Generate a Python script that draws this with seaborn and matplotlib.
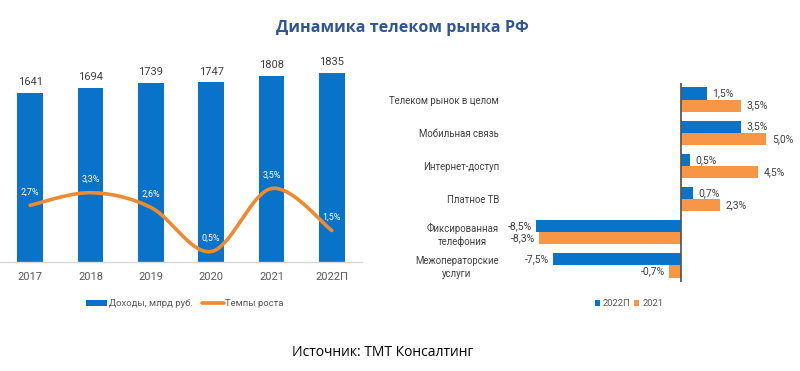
import numpy as np
import pandas as pd
import matplotlib
matplotlib.use("Agg")
import matplotlib.pyplot as plt
from matplotlib import font_manager
from matplotlib.patches import Patch
from matplotlib.lines import Line2D
import seaborn as sns

# ---------------- data ----------------
years = ["2017", "2018", "2019", "2020", "2021", "2022П"]
revenue = [1641, 1694, 1739, 1747, 1808, 1835]
growth = [2.7, 3.3, 2.6, 0.5, 3.5, 1.5]
growth_labels = ["2,7%", "3,3%", "2,6%", "0,5%", "3,5%", "1,5%"]

segments = ["Телеком рынок в целом", "Мобильная связь", "Интернет-доступ",
            "Платное ТВ", "Фиксированная\nтелефония", "Межоператорские\nуслуги"]
seg_2022 = [1.5, 3.5, 0.5, 0.7, -8.5, -7.5]
seg_2021 = [3.5, 5.0, 4.5, 2.3, -8.3, -0.7]
series_names = ["2022П", "2021"]

title = "Динамика телеком рынка РФ"
source = "Источник: ТМТ Консалтинг"

# ---------------- style ----------------
sns.set_theme(style="white")
avail = {f.name for f in font_manager.fontManager.ttflist}
narrow = "Liberation Sans Narrow" if "Liberation Sans Narrow" in avail else "Roboto"
plt.rcParams["font.family"] = [narrow, "DejaVu Sans"]

BLUE = "#0873C9"
ORANGE_LINE = "#F08A2E"
ORANGE_BAR = "#F79646"
GRAY = "#595959"
W, H = 800, 371

fig = plt.figure(figsize=(W / 100, H / 100), dpi=100)

def fx(px):
    return px / W

def fy(py):
    return 1 - py / H

# ---------------- left chart ----------------
ax1 = fig.add_axes([fx(0), fy(262), fx(362), 212 / H])
df_rev = pd.DataFrame({"year": years, "revenue": revenue})
sns.barplot(data=df_rev, x="year", y="revenue", color=BLUE, width=0.42,
            linewidth=0, saturation=1, ax=ax1)
ax1.set_xlim(-0.5, 5.5)
ax1.set_ylim(0, 212 / 0.103)
ax1.set_xlabel("")
ax1.set_ylabel("")
ax1.set_yticks([])
ax1.tick_params(axis="x", length=0, pad=7, labelsize=8, labelcolor=GRAY)
for s in ["top", "right", "left"]:
    ax1.spines[s].set_visible(False)
ax1.spines["bottom"].set_color("#D9D9D9")
ax1.spines["bottom"].set_linewidth(1)
for i, v in enumerate(revenue):
    ax1.annotate(str(v), (i, v), xytext=(0, 4), textcoords="offset points",
                 ha="center", va="bottom", fontsize=8, color="#404040")

ax2 = ax1.twinx()
ax2.set_ylim(0, 212 / 21)
ax2.set_yticks([])
for s in ax2.spines.values():
    s.set_visible(False)

# smooth curve (Excel-style Bezier) through the data points
xs = np.arange(len(growth), dtype=float)
ys = np.array(growth, dtype=float)
sx, sy = 60.4, 21.0
P = np.column_stack([xs * sx, ys * sy])
pts = []
for i in range(len(P) - 1):
    p0 = P[i - 1] if i > 0 else P[i]
    p1, p2 = P[i], P[i + 1]
    p3 = P[i + 2] if i + 2 < len(P) else P[i + 1]
    c1 = p1 + (p2 - p0) / 6
    c2 = p2 - (p3 - p1) / 6
    t = np.linspace(0, 1, 40)[:, None]
    seg = ((1 - t) ** 3) * p1 + 3 * ((1 - t) ** 2) * t * c1 + 3 * (1 - t) * t ** 2 * c2 + t ** 3 * p2
    pts.append(seg if i == 0 else seg[1:])
curve = np.vstack(pts)
df_curve = pd.DataFrame({"x": curve[:, 0] / sx, "y": curve[:, 1] / sy})
sns.lineplot(data=df_curve, x="x", y="y", sort=False, color=ORANGE_LINE,
             linewidth=2.6, ax=ax2)
ax2.set_xlabel("")
ax2.set_ylabel("")
for i, (v, lab) in enumerate(zip(growth, growth_labels)):
    ax2.annotate(lab, (i, v), xytext=(0, 9.5), textcoords="offset points",
                 ha="center", va="center", fontsize=6.5, color="white")

leg1 = fig.legend(
    handles=[Patch(facecolor=BLUE, edgecolor="none", label="Доходы, млрд руб."),
             Line2D([0], [0], color=ORANGE_LINE, lw=2.6, label="Темпы роста")],
    loc="center left", bbox_to_anchor=(fx(77), fy(304)), ncol=2, frameon=False,
    fontsize=6.8, handlelength=2.3, handleheight=0.5, handletextpad=0.15,
    columnspacing=1.0, labelcolor=GRAY)

# ---------------- right chart ----------------
ax3 = fig.add_axes([fx(510), fy(282), fx(280), 199 / H])
df_seg = pd.DataFrame({
    "segment": segments * 2,
    "value": seg_2022 + seg_2021,
    "series": [series_names[0]] * len(segments) + [series_names[1]] * len(segments),
})
sns.barplot(data=df_seg, y="segment", x="value", hue="series", orient="h",
            palette=[BLUE, ORANGE_BAR], width=0.73, linewidth=0, saturation=1,
            legend=False, ax=ax3)
ax3.set_xlim(-(681 - 510) / 17.05, (790 - 681) / 17.05)
ax3.set_ylim(5.5, -0.5)
ax3.set_xlabel("")
ax3.set_ylabel("")
ax3.set_xticks([])
for s in ax3.spines.values():
    s.set_visible(False)
ax3.axvline(0, color=GRAY, lw=1.3)
ax3.tick_params(axis="y", length=0, pad=8, labelsize=6.9, labelcolor="#404040")
for lab in ax3.get_yticklabels():
    lab.set_multialignment("center")
    lab.set_linespacing(1.3)

off = 0.73 / 4
for i in range(len(segments)):
    for v, dy in ((seg_2022[i], -off), (seg_2021[i], off)):
        txt = f"{v:.1f}%".replace(".", ",")
        if v >= 0:
            ax3.annotate(txt, (v, i + dy), xytext=(4, 0), textcoords="offset points",
                         ha="left", va="center", fontsize=7.5, color="#404040")
        else:
            ax3.annotate(txt, (v, i + dy), xytext=(-3, 0), textcoords="offset points",
                         ha="right", va="center", fontsize=7.5, color="#404040")

leg2 = fig.legend(
    handles=[Patch(facecolor=BLUE, edgecolor="none", label=series_names[0]),
             Patch(facecolor=ORANGE_BAR, edgecolor="none", label=series_names[1])],
    loc="center left", bbox_to_anchor=(fx(586), fy(304)), ncol=2, frameon=False,
    fontsize=6.8, handlelength=0.55, handleheight=0.55, handletextpad=0.3,
    columnspacing=0.4, labelcolor=GRAY)

# ---------------- texts ----------------
fig.text(fx(402), fy(28), title, ha="center", va="center", fontsize=11.6,
         fontweight="bold", color="#2F5597", family=["Open Sans", "DejaVu Sans"])
fig.text(fx(383), fy(352), source, ha="center", va="center", fontsize=10,
         color="black", family=["Open Sans", "DejaVu Sans"])

fig.savefig("out.png", dpi=100)
